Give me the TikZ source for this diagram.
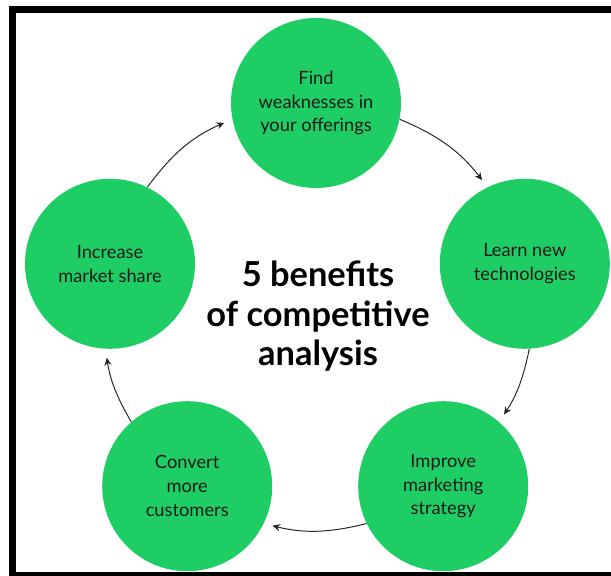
\documentclass[tikz,border=0pt]{standalone}
\usepackage{fontspec}
\setmainfont{Lato}
\usetikzlibrary{arrows.meta}
\definecolor{benefitgreen}{RGB}{30,206,100}

\begin{document}
\begin{tikzpicture}[
    benefit/.style={circle, fill=benefitgreen, minimum size=4.25cm, inner sep=0pt, align=center, text=black!90, font=\fontsize{13}{17}\selectfont},
    cyclearrow/.style={black!85, line width=0.7pt, -{Stealth[length=5.5pt, width=5pt]}, shorten >=0.22cm}
]
    \useasboundingbox (0,0) rectangle (15.275,14.375);
    \clip (0,0) rectangle (15.275,14.375);
    \draw[line width=0.175cm] (0.31,-0.0125) rectangle (16,14.13); % Frame

    % Nodes
    \node[benefit] (find) at (7.90,11.80) {Find\\weaknesses in\\your offerings};
    \node[benefit] (learn) at (13.12,7.78) {Learn new\\technologies};
    \node[benefit] (improve) at (11.08,2.22) {Improve\\marketing\\strategy};
    \node[benefit] (convert) at (4.68,2.22) {Convert\\more\\customers};
    \node[benefit] (increase) at (2.75,7.78) {Increase\\market share};
    \node[align=center, font=\bfseries\fontsize{24.5}{28}\selectfont] (title) at (7.95,6.47) {5 benefits\\of competitive\\analysis};

    % Edges
    \draw[cyclearrow] (increase.64) to[bend left=15] (find.191);
    \draw[cyclearrow] (find.349) to[bend left=15] (learn.116);
    \draw[cyclearrow] (learn.273) to[bend left=11] (improve.49);
    \draw[cyclearrow] (improve.206) to[bend left=14] (convert.334);
    \draw[cyclearrow] (convert.131) to[bend left=11] (increase.267);
\end{tikzpicture}
\end{document}
